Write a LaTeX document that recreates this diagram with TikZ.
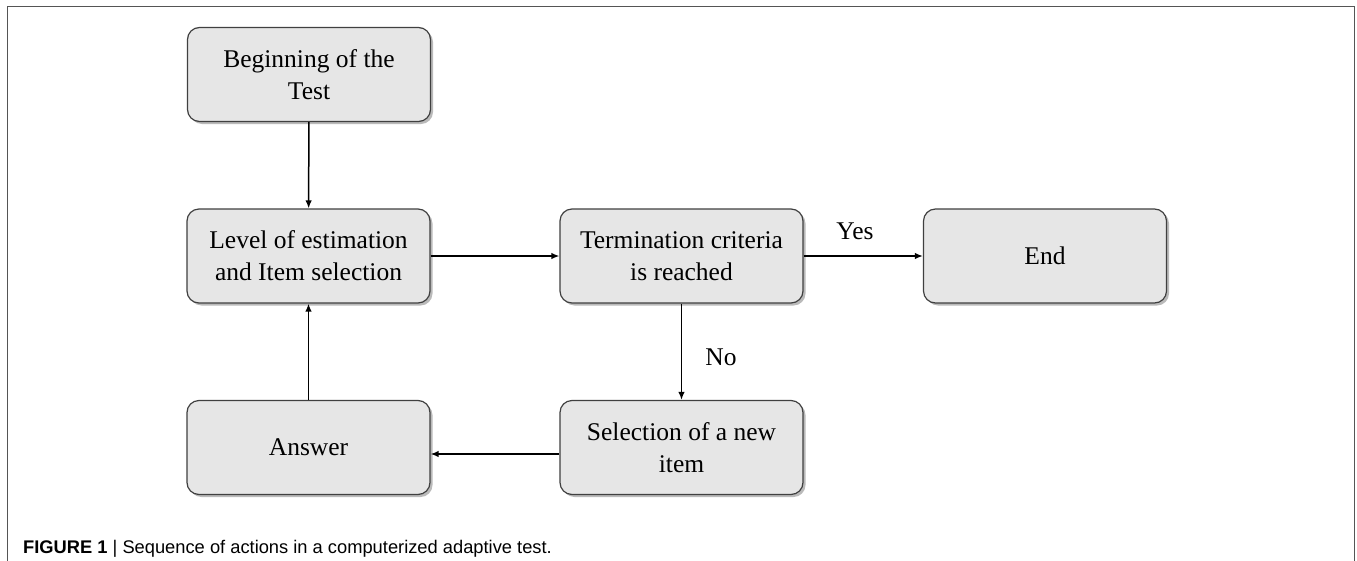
\documentclass[tikz,border=0pt]{standalone}
\usepackage{fontspec}
\setmainfont{Liberation Serif}
\newfontfamily\capfont{Liberation Sans}
\usetikzlibrary{arrows.meta,shadows}
\definecolor{boxfill}{HTML}{E6E6E6}
\definecolor{boxline}{HTML}{404040}
\definecolor{framecol}{HTML}{555555}
\tikzset{
  flowbox/.style={draw=boxline, line width=1.2pt, fill=boxfill, rounded corners=12pt,
    minimum width=243pt, minimum height=94pt, inner sep=0pt, align=center,
    font=\fontsize{25.5}{32}\selectfont,
    drop shadow={shadow xshift=2.5pt, shadow yshift=-2.5pt, opacity=0.45, fill=black!60}},
  flowarrow/.style={line width=1.5pt, -{Latex[length=8pt,width=6.5pt]}},
  lbl/.style={font=\fontsize{25.5}{28}\selectfont, inner sep=0pt}
}
\begin{document}
\begin{tikzpicture}[x=1pt,y=-1pt]
\useasboundingbox (0,0) rectangle (1357,560);
\fill[white] (0,0) rectangle (1357,560);
\draw[framecol, line width=1pt] (7,561) -- (7,6) -- (1354,6) -- (1354,561);
\node[flowbox] (beg) at (309,74.5) {Beginning of the\\Test};
\node[flowbox] (lev) at (308.5,256) {Level of estimation\\and Item selection};
\node[flowbox] (ter) at (681.5,256) {Termination criteria\\is reached};
\node[flowbox] (end) at (1045,256) {End};
\node[flowbox] (ans) at (308.5,447.5) {Answer};
\node[flowbox] (sel) at (681.5,447.5) {Selection of a new\\item};
\draw[flowarrow] (beg) -- (lev);
\draw[flowarrow] (lev) -- (ter);
\draw[flowarrow] (ter) -- (end);
\draw[flowarrow] (ter) -- (sel);
\draw[flowarrow] ([yshift=-6.5pt]sel.west) -- ([yshift=-6.5pt]ans.east);
\draw[flowarrow] (ans) -- (lev);
\node[lbl] (yes) at (855,231) {Yes};
\node[lbl] (no) at (721,357) {No};
\node[anchor=west, inner sep=0pt, font=\capfont\fontsize{18.3}{22}\selectfont] (cap) at (23,549) {\textbf{FIGURE 1} | Sequence of actions in a computerized adaptive test.};
\end{tikzpicture}
\end{document}
